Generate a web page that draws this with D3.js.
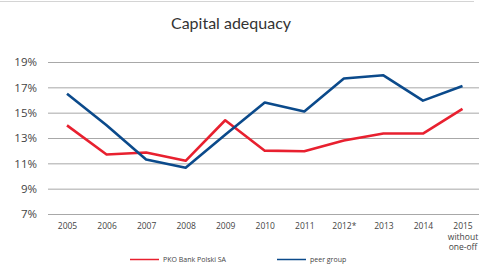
<!DOCTYPE html>
<html>
<head>
<meta charset="utf-8">
<script src="https://cdn.jsdelivr.net/npm/d3@7"></script>
<style>
  body { margin: 0; background: #fff; }
  svg { display: block; }
</style>
</head>
<body>
<script>
var years = ["2005", "2006", "2007", "2008", "2009", "2010", "2011", "2012*", "2013", "2014", "2015"];
var pko = [14.0, 11.7, 11.85, 11.2, 14.4, 12.0, 11.95, 12.8, 13.35, 13.35, 15.3];
var peers = [16.5, 14.0, 11.3, 10.65, 13.25, 15.8, 15.1, 17.7, 17.95, 15.95, 17.1];
var yTicks = [7, 9, 11, 13, 15, 17, 19];

var width = 479, height = 264;

var svg = d3.select("body").append("svg")
    .attr("width", width)
    .attr("height", height);

// frame line at top
svg.append("line")
    .attr("x1", 0).attr("x2", 474)
    .attr("y1", 1.5).attr("y2", 1.5)
    .style("stroke", "#d4d4d4");

svg.append("text")
    .attr("x", 231).attr("y", 29)
    .attr("text-anchor", "middle")
    .style("font-family", "Lato, sans-serif")
    .style("font-size", "16px")
    .style("fill", "#333")
    .text("Capital adequacy");

var x = d3.scalePoint().domain(years).range([67, 462.5]);
var y = d3.scaleLinear().domain([7, 19]).range([214, 62]);

// gridlines
var yAxis = d3.axisLeft(y)
    .tickValues(yTicks)
    .tickSize(-431)
    .tickPadding(11)
    .tickFormat(function (d) { return d + "%"; });

var gy = svg.append("g")
    .attr("transform", "translate(48,0)")
    .call(yAxis);
gy.select(".domain").remove();
gy.selectAll(".tick line").style("stroke", "#a8a8a8").style("stroke-width", 1);
gy.selectAll(".tick text")
    .style("font-family", "'Open Sans', sans-serif")
    .style("font-size", "11.5px")
    .style("fill", "#444");

var xAxis = d3.axisBottom(x).tickSize(0).tickPadding(9);
var gx = svg.append("g")
    .attr("transform", "translate(0,214)")
    .call(xAxis);
gx.select(".domain").remove();
gx.selectAll(".tick text")
    .style("font-family", "'Open Sans', sans-serif")
    .style("font-size", "8.5px")
    .style("fill", "#444");

// extra lines under the last label
var last = gx.selectAll(".tick text").filter(function (d) { return d === "2015"; });
last.append("tspan").attr("x", 0).attr("dy", "1.25em").text("without");
last.append("tspan").attr("x", 0).attr("dy", "1.25em").text("one-off");

var line = d3.line()
    .x(function (d, i) { return x(years[i]); })
    .y(function (d) { return y(d); });

svg.append("path")
    .datum(pko)
    .attr("d", line)
    .style("fill", "none")
    .style("stroke", "#e8202f")
    .style("stroke-width", 2.6)
    .style("stroke-linejoin", "round");

svg.append("path")
    .datum(peers)
    .attr("d", line)
    .style("fill", "none")
    .style("stroke", "#0b4a8b")
    .style("stroke-width", 2.6)
    .style("stroke-linejoin", "round");

// legend
var legend = [
    { name: "PKO Bank Polski SA", color: "#e8202f", x: 130 },
    { name: "peer group", color: "#0b4a8b", x: 277 }
];
var lg = svg.append("g").selectAll("g")
    .data(legend)
    .enter().append("g")
    .attr("transform", function (d) { return "translate(" + d.x + ",259.5)"; });
lg.append("line")
    .attr("x1", 0).attr("x2", 29)
    .style("stroke", function (d) { return d.color; })
    .style("stroke-width", 1.5);
lg.append("text")
    .attr("x", 33).attr("y", 2.5)
    .style("font-family", "'Open Sans', sans-serif")
    .style("font-size", "7px")
    .style("fill", "#444")
    .text(function (d) { return d.name; });
</script>
</body>
</html>
